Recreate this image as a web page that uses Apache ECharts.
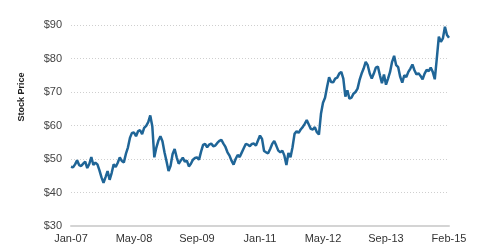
<!DOCTYPE html>
<html>
<head>
<meta charset="utf-8">
<script src="https://cdn.jsdelivr.net/npm/echarts@6/dist/echarts.min.js"></script>
<style>html,body{margin:0;padding:0;background:#fff;}#c{width:480px;height:251px;}</style>
</head>
<body>
<div id="c"></div>
<script>
var tickLabels = ['Jan-07','May-08','Sep-09','Jan-11','May-12','Sep-13','Feb-15'];
var stepsPerTick = 31;
var prices = [
47.7,47.5,48.4,49.6,48.2,47.9,48.6,49.2,47.3,48.5,
50.6,48.2,48.9,48.4,46.6,44.5,42.9,44.6,46.4,43.8,
45.8,48.4,47.6,48.9,50.5,49.4,49.0,51.5,53.4,56.3,
57.8,57.9,56.8,58.3,58.6,57.4,59.3,59.9,61.0,63.0,
59.8,50.5,53.4,55.5,56.8,55.3,52.0,49.3,46.4,48.0,
51.5,53.0,50.5,48.6,49.5,50.4,49.2,49.5,47.8,48.6,
49.8,50.3,50.5,49.8,52.2,54.2,54.5,53.5,54.3,54.6,
53.8,54.0,54.8,55.4,55.7,54.6,53.6,52.0,51.0,49.5,
48.3,50.0,51.2,50.6,51.9,53.2,54.5,54.3,53.8,54.5,
54.6,54.0,55.5,57.0,56.0,52.4,52.0,51.7,53.0,54.5,
55.4,54.0,52.5,52.0,52.5,51.0,48.2,51.8,50.5,53.5,
57.5,58.3,57.8,58.8,59.5,60.5,61.6,60.3,59.0,58.8,
59.5,58.0,57.3,63.5,66.8,68.3,71.5,74.4,73.0,72.9,
74.0,74.3,75.5,76.0,74.0,68.6,70.5,68.0,68.3,69.5,
70.0,71.0,73.6,75.5,77.0,79.0,78.0,75.5,74.0,75.5,
77.3,77.6,75.0,72.6,75.2,72.2,74.0,76.0,79.0,80.8,
78.0,77.4,74.5,72.8,75.0,74.5,76.0,77.0,78.2,76.5,
75.2,75.6,74.8,73.8,75.5,76.6,76.2,77.3,76.0,73.8,
80.0,86.5,85.0,86.0,89.5,87.0,86.2
];
var categories = prices.map(function(v,i){
  return (i % stepsPerTick === 0) ? (tickLabels[i / stepsPerTick] || '') : '';
});
var chart = echarts.init(document.getElementById('c'), null, {renderer:'canvas'});
chart.setOption({
  animation:false,
  backgroundColor:'#fff',
  grid:{left:71, right:31, top:25, bottom:25, containLabel:false},
  graphic:[{
    type:'text',
    x:22, y:97,
    rotation:Math.PI/2,
    style:{text:'Stock Price', fill:'#222', font:'bold 9px "Liberation Sans", Arial, sans-serif', align:'center', verticalAlign:'middle'}
  }],
  xAxis:{
    type:'category', data:categories, boundaryGap:false,
    axisLine:{show:true, lineStyle:{color:'#d4d4d4', width:2}},
    axisTick:{show:false},
    axisLabel:{interval:stepsPerTick-1, color:'#333', fontSize:11, fontFamily:'"Liberation Sans", Arial, sans-serif', margin:7},
    splitLine:{show:false}
  },
  yAxis:{
    type:'value', min:30, max:90, interval:10,
    axisLine:{show:false}, axisTick:{show:false},
    axisLabel:{formatter:'${value}', color:'#444', fontSize:11, fontFamily:'"Liberation Sans", Arial, sans-serif', margin:9},
    splitLine:{show:true, lineStyle:{color:'#cfcfcf', type:[1,2], width:1}}
  },
  series:[{
    type:'line', data:prices, showSymbol:false, symbol:'none',
    lineStyle:{color:'#1f6597', width:2.5}
  }]
});
</script>
</body>
</html>
